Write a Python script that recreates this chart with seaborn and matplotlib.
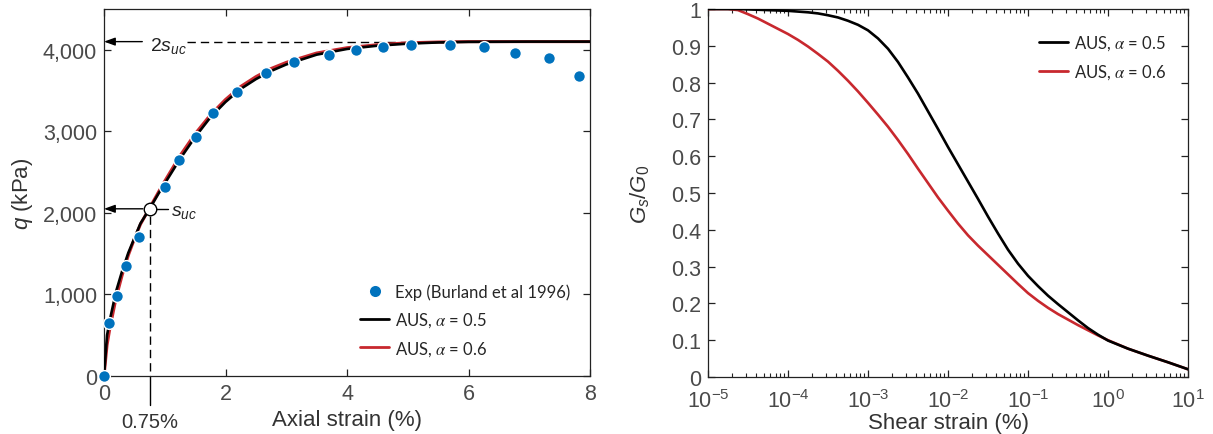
import numpy as np
import pandas as pd
import matplotlib
matplotlib.use("Agg")
import matplotlib.pyplot as plt
import seaborn as sns
from matplotlib.lines import Line2D
from matplotlib.ticker import FixedLocator, LogLocator, NullFormatter

# ---------------- data: undrained compression test ----------------
exp_strain = [0.0, 0.09, 0.22, 0.36, 0.57, 1.01, 1.23, 1.51, 1.80, 2.19, 2.66,
              3.13, 3.71, 4.15, 4.59, 5.06, 5.70, 6.26, 6.76, 7.32, 7.82]
exp_q = [0, 650, 975, 1345, 1700, 2320, 2650, 2935, 3220, 3485, 3715,
         3850, 3940, 4000, 4030, 4060, 4060, 4030, 3965, 3895, 3680]

model_strain = [0.0, 0.05, 0.1, 0.2, 0.3, 0.4, 0.5, 0.6, 0.75, 0.9, 1.0, 1.25,
                1.5, 1.75, 2.0, 2.25, 2.5, 2.75, 3.0, 3.5, 4.0, 4.5, 5.0, 5.5,
                6.0, 7.0, 8.0]
q_alpha05 = [0, 500, 700, 1040, 1290, 1510, 1690, 1870, 2050, 2240, 2360, 2660,
             2930, 3170, 3360, 3520, 3640, 3740, 3820, 3940, 4010, 4050, 4075,
             4090, 4097, 4100, 4100]
q_alpha06 = [0, 380, 600, 960, 1240, 1480, 1680, 1860, 2060, 2260, 2390, 2700,
             2970, 3200, 3390, 3550, 3670, 3770, 3845, 3960, 4025, 4062, 4085,
             4095, 4100, 4100, 4100]

s_uc = 2050          # undrained strength (kPa)
strain_at_suc = 0.75  # axial strain (%) at q = s_uc

q_ticks = [0, 1000, 2000, 3000, 4000]
q_tick_labels = ["0", "1,000", "2,000", "3,000", "4,000"]
axial_ticks = [0, 2, 4, 6, 8]

# ---------------- data: stiffness degradation ----------------
# shear strain given as log10 of the strain in %
shear_strain_exp = [-5.0, -4.75, -4.625, -4.5, -4.375, -4.25, -4.125, -4.0,
                    -3.875, -3.75, -3.625, -3.5, -3.375, -3.25, -3.125, -3.0,
                    -2.875, -2.75, -2.625, -2.5, -2.375, -2.25, -2.125, -2.0,
                    -1.875, -1.75, -1.625, -1.5, -1.375, -1.25, -1.125, -1.0,
                    -0.875, -0.75, -0.625, -0.5, -0.375, -0.25, -0.125, 0.0,
                    0.25, 0.5, 0.75, 1.0]
g_alpha05 = [1.000, 1.000, 1.000, 0.999, 0.998, 0.997, 0.996, 0.995,
             0.993, 0.991, 0.988, 0.983, 0.977, 0.968, 0.957, 0.942,
             0.920, 0.892, 0.856, 0.814, 0.770, 0.722, 0.674, 0.625,
             0.578, 0.531, 0.484, 0.436, 0.390, 0.346, 0.308, 0.275,
             0.247, 0.221, 0.198, 0.176, 0.154, 0.133, 0.115, 0.099,
             0.077, 0.058, 0.040, 0.021]
g_alpha06 = [1.000, 1.000, 0.997, 0.986, 0.974, 0.960, 0.946, 0.932,
             0.916, 0.898, 0.878, 0.857, 0.832, 0.805, 0.776, 0.745,
             0.713, 0.680, 0.644, 0.606, 0.566, 0.527, 0.488, 0.452,
             0.417, 0.385, 0.357, 0.331, 0.305, 0.279, 0.253, 0.228,
             0.207, 0.188, 0.171, 0.156, 0.141, 0.127, 0.113, 0.100,
             0.077, 0.058, 0.040, 0.021]
shear_strain = [10.0 ** e for e in shear_strain_exp]

g_ticks = [0, 0.1, 0.2, 0.3, 0.4, 0.5, 0.6, 0.7, 0.8, 0.9, 1.0]
g_tick_labels = ["0", "0.1", "0.2", "0.3", "0.4", "0.5", "0.6", "0.7", "0.8", "0.9", "1"]

label_05 = r"AUS, $\alpha$ = 0.5"
label_06 = r"AUS, $\alpha$ = 0.6"
label_exp = "Exp (Burland et al 1996)"

# ---------------- style ----------------
sns.set_theme(style="ticks")
plt.rcParams.update({
    "font.family": ["Liberation Sans", "DejaVu Sans"],
    "mathtext.fontset": "custom",
    "mathtext.rm": "Liberation Sans",
    "mathtext.it": "Liberation Sans:italic",
    "mathtext.bf": "Liberation Sans:bold",
    "axes.edgecolor": "#222222",
    "axes.linewidth": 0.9,
    "xtick.color": "#222222",
    "ytick.color": "#222222",
    "xtick.labelcolor": "#4a4a4a",
    "ytick.labelcolor": "#4a4a4a",
    "xtick.direction": "in",
    "ytick.direction": "in",
})

BLUE = "#0072BD"
RED = "#C8282E"
BLACK = "#000000"
TICK_FS = 15.5
LABEL_FS = 16
LEG_FONT = {"family": ["Lato", "DejaVu Sans"], "size": 12}

fig = plt.figure(figsize=(12.13, 4.35), dpi=100)
ax1 = fig.add_axes([104 / 1213, 58 / 435, 486 / 1213, 367 / 435])
ax2 = fig.add_axes([708 / 1213, 57 / 435, 480 / 1213, 368 / 435])

# ---------------- left: stress-strain ----------------
sns.lineplot(x=model_strain, y=q_alpha06, color=RED, lw=2.2, sort=False,
             estimator=None, ax=ax1, zorder=3)
sns.lineplot(x=model_strain, y=q_alpha05, color=BLACK, lw=1.9, sort=False,
             estimator=None, ax=ax1, zorder=4)
sns.scatterplot(x=exp_strain, y=exp_q, s=72, color=BLUE, edgecolor="white",
                linewidth=1.0, ax=ax1, zorder=5, clip_on=False)

arrow_kw = dict(arrowstyle="-|>,head_length=0.55,head_width=0.2", color="black",
                lw=1.0, shrinkA=0, shrinkB=0)
# 2 s_uc guide
ax1.annotate("", xy=(0.0, 2 * s_uc), xytext=(0.63, 2 * s_uc), arrowprops=arrow_kw,
             zorder=6)
ax1.text(0.76, 2 * s_uc - 40, r"$2s_{uc}$", ha="left", va="center",
         fontsize=14, color="#222222")
ax1.plot([1.36, 5.6], [2 * s_uc, 2 * s_uc], color="black", lw=1.0,
         ls=(0, (6, 3.6)), zorder=2)
# s_uc guide
ax1.annotate("", xy=(0.0, s_uc), xytext=(0.64, s_uc), arrowprops=arrow_kw, zorder=6)
ax1.plot([0.84, 1.06], [s_uc, s_uc], color="black", lw=1.0, zorder=6)
ax1.text(1.11, s_uc - 30, r"$s_{uc}$", ha="left", va="center", fontsize=14,
         color="#222222")
ax1.plot([strain_at_suc, strain_at_suc], [s_uc - 90, 0], color="black", lw=1.0,
         ls=(0, (6, 3.6)), zorder=2)
ax1.plot([strain_at_suc, strain_at_suc], [0, -360], color="black", lw=1.0,
         clip_on=False)
ax1.plot(strain_at_suc, s_uc, "o", mfc="white", mec="black", ms=9, mew=1.0,
         zorder=7)
ax1.text(strain_at_suc, -555, f"{strain_at_suc}%", ha="center", va="center",
         fontsize=14.5, color="#333333")

ax1.set_xlim(0, 8)
ax1.set_ylim(0, 4500)
ax1.xaxis.set_major_locator(FixedLocator(axial_ticks))
ax1.set_xticklabels([str(t) for t in axial_ticks])
ax1.yaxis.set_major_locator(FixedLocator(q_ticks))
ax1.set_yticklabels(q_tick_labels)
ax1.tick_params(axis="both", which="major", length=5, width=0.9, top=True,
                right=True, labelsize=TICK_FS, pad=5)
ax1.set_xlabel("Axial strain (%)", fontsize=LABEL_FS, color="#333333")
ax1.set_ylabel(r"$q$ (kPa)", fontsize=LABEL_FS, color="#333333")
ax1.xaxis.set_label_coords(0.5, -0.09)
ax1.yaxis.set_label_coords(-0.143, 0.5)

handles1 = [
    Line2D([], [], ls="none", marker="o", ms=9, mfc=BLUE, mec="white", mew=1.0),
    Line2D([], [], color=BLACK, lw=2),
    Line2D([], [], color=RED, lw=2),
]
leg1 = ax1.legend(handles1, [label_exp, label_05, label_06], loc="upper left",
                  bbox_to_anchor=(0.527, 0.252), frameon=False, prop=LEG_FONT,
                  handlelength=1.75, handletextpad=0.35, labelspacing=0.6,
                  borderpad=0, borderaxespad=0)
for t in leg1.get_texts():
    t.set_math_fontfamily("stix")

# ---------------- right: G/G0 degradation ----------------
sns.lineplot(x=shear_strain, y=g_alpha06, color=RED, lw=1.9, sort=False,
             estimator=None, ax=ax2, zorder=3)
sns.lineplot(x=shear_strain, y=g_alpha05, color=BLACK, lw=1.9, sort=False,
             estimator=None, ax=ax2, zorder=4)
ax2.set_xscale("log")
ax2.set_xlim(1e-5, 10)
ax2.set_ylim(0, 1)
ax2.xaxis.set_major_locator(LogLocator(base=10, numticks=10))
ax2.xaxis.set_minor_locator(LogLocator(base=10, subs=np.arange(2, 10), numticks=20))
ax2.xaxis.set_minor_formatter(NullFormatter())
ax2.yaxis.set_major_locator(FixedLocator(g_ticks))
ax2.set_yticklabels(g_tick_labels)
ax2.tick_params(axis="both", which="major", length=5, width=0.9, top=True,
                right=True, labelsize=TICK_FS, pad=5)
ax2.tick_params(axis="x", which="major", pad=9)
ax2.tick_params(axis="x", which="minor", length=2.8, width=0.8, top=True)
ax2.set_xlabel("Shear strain (%)", fontsize=LABEL_FS, color="#333333")
ax2.set_ylabel(r"$G_s/G_0$", fontsize=LABEL_FS, color="#333333")
ax2.xaxis.set_label_coords(0.5, -0.095)
ax2.yaxis.set_label_coords(-0.117, 0.5)

handles2 = [Line2D([], [], color=BLACK, lw=2), Line2D([], [], color=RED, lw=2)]
leg2 = ax2.legend(handles2, [label_05, label_06], loc="upper left",
                  bbox_to_anchor=(0.69, 0.933), frameon=False, prop=LEG_FONT,
                  handlelength=1.75, handletextpad=0.35, labelspacing=0.6,
                  borderpad=0, borderaxespad=0)
for t in leg2.get_texts():
    t.set_math_fontfamily("stix")

fig.savefig("out.png", dpi=100)
